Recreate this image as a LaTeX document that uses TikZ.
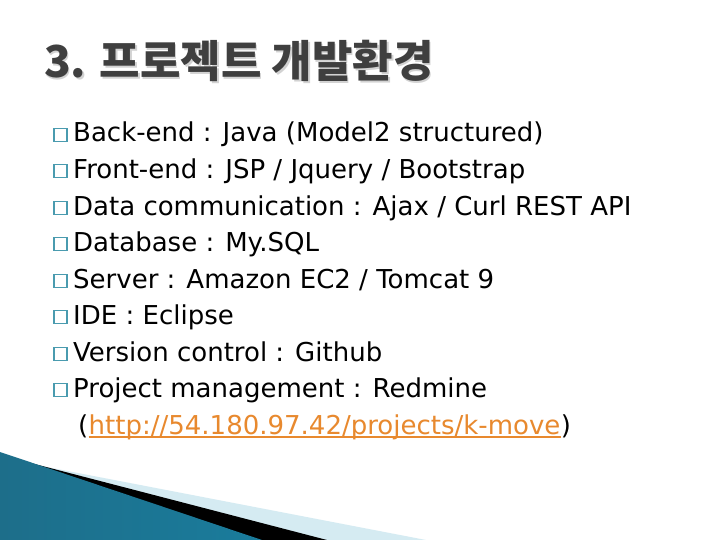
\documentclass[tikz,border=0pt]{standalone}
\usepackage{fontspec}
\setmainfont{DejaVu Sans}
\newfontfamily\titlefont{Noto Sans CJK KR}
\usepackage{xcolor}
\usetikzlibrary{positioning}
\definecolor{titlegray}{HTML}{3F3F3F}
\definecolor{shadowgray}{HTML}{D2D2D2}
\definecolor{bulletteal}{HTML}{4A9BAF}
\definecolor{linkorange}{HTML}{E8892E}
\definecolor{paleblue}{HTML}{D5EBF2}
\definecolor{tealdark}{HTML}{1D6E8A}
\definecolor{teallight}{HTML}{5CBEDC}
\definecolor{tealend}{HTML}{1A7C9C}

\begin{document}
\begin{tikzpicture}[x=1pt, y=-1pt,
    heading/.style={anchor=base west, inner sep=0pt, font=\titlefont\bfseries\fontsize{44}{46}\selectfont},
    item/.style={anchor=base west, inner sep=0pt, font=\fontsize{26}{28}\selectfont},
    bullet/.style={draw=bulletteal, line width=1.3pt, minimum size=13pt, inner sep=0pt}]
  \useasboundingbox (0,0) rectangle (720,540);
  \fill[white] (0,0) rectangle (720,540);

  % title with shadow
  \node[heading, text=shadowgray] (titleshadow) at (45.5,79.5) {3. 프로젝트 개발환경};
  \node[heading, text=titlegray] (title) at (44,78) {3. 프로젝트 개발환경};

  % bullets
  \foreach \i/\y in {1/142, 2/178.5, 3/215, 4/251.5, 5/288, 6/324.5, 7/361, 8/397.5}
    \node[bullet] (b\i) at (60.5,\y-7.2) {};

  % items
  \node[item] (backend) at (73,142) {Back-end : Java (Model2 structured)};
  \node[item] (frontend) at (73,178.5) {Front-end : JSP / Jquery / Bootstrap};
  \node[item] (datacomm) at (73,215) {Data communication : Ajax / Curl REST API};
  \node[item] (database) at (73,251.5) {Database : My.SQL};
  \node[item] (server) at (73,288) {Server : Amazon EC2 / Tomcat 9};
  \node[item] (ide) at (73,324.5) {IDE : Eclipse};
  \node[item] (vcs) at (73,361) {Version control : Github};
  \node[item] (pm) at (73,397.5) {Project management : Redmine};

  % redmine link
  \node[item] (lparen) at (78,434) {(};
  \node[item, text=linkorange] (link) at (lparen.base east) {http://54.180.97.42/projects/k-move};
  \node[item] (rparen) at (link.base east) {)};
  \draw[linkorange, line width=1.5pt] ([yshift=-3pt]link.base west) -- ([yshift=-3pt]link.base east);

  % corner decoration
  \fill[paleblue] (0,458) -- (426,540) -- (0,540) -- cycle;
  \fill[black] (0,455) -- (327,540) -- (0,540) -- cycle;
  \shade[left color=tealdark, middle color=teallight, right color=tealend]
    (0,452) -- (262,540) -- (0,540) -- cycle;
\end{tikzpicture}
\end{document}
